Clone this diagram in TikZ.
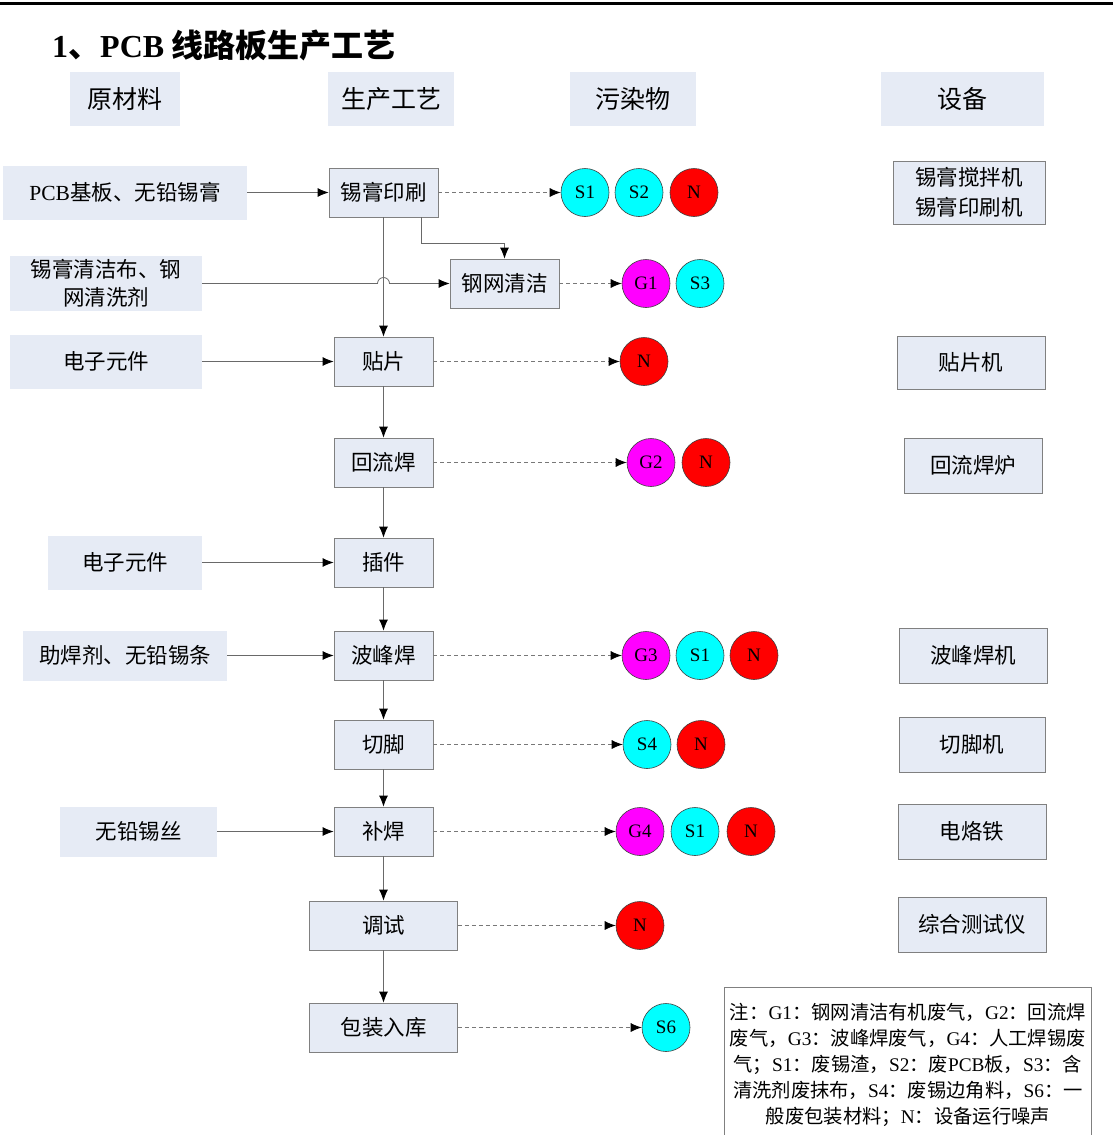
\documentclass[tikz,border=0pt]{standalone}
\usepackage{fontspec}
\setmainfont{Noto Sans CJK SC}
\newfontfamily\lat{Liberation Serif}
\usetikzlibrary{arrows.meta,calc}
\definecolor{boxfill}{RGB}{230,235,245}
\definecolor{edgegray}{RGB}{128,128,128}
\definecolor{linegray}{RGB}{105,105,105}
\definecolor{dashgray}{RGB}{120,120,120}
\definecolor{gcol}{RGB}{255,0,255}
\definecolor{scol}{RGB}{0,255,255}
\definecolor{ncol}{RGB}{255,0,0}
\tikzset{
  hdr/.style={fill=boxfill, inner sep=0pt, font=\fontsize{25}{28}\selectfont},
  raw/.style={fill=boxfill, inner sep=0pt, align=center, font=\fontsize{21.5}{28}\selectfont},
  proc/.style={fill=boxfill, draw=edgegray, line width=0.8pt, inner sep=0pt, font=\fontsize{21.5}{28}\selectfont},
  equip/.style={fill=boxfill, draw=edgegray, line width=0.8pt, inner sep=0pt, align=center, font=\fontsize{21.5}{30}\selectfont},
  circ/.style={circle, draw=black!75, line width=0.6pt, minimum size=48pt, inner sep=0pt, font=\lat\fontsize{19}{19}\selectfont},
  gc/.style={circ, fill=gcol},
  sc/.style={circ, fill=scol},
  nc/.style={circ, fill=ncol},
  arr/.style={draw=linegray, line width=0.8pt, -{Latex[length=11pt,width=9pt,color=black]}},
  darr/.style={draw=dashgray, line width=0.8pt, dash pattern=on 4pt off 3pt, -{Latex[length=11pt,width=9pt,color=black]}},
}
\begin{document}
\begin{tikzpicture}[x=1pt,y=-1pt]
\useasboundingbox (0,0) rectangle (1113,1135);
\fill[white] (0,0) rectangle (1113,1135);
\coordinate (tl) at (0,3.5);
\coordinate (tr) at (1113,3.5);
\draw[line width=3pt] (tl) -- (tr);
\node[anchor=west, font=\bfseries\fontsize{32}{36}\selectfont, inner sep=0pt] (title) at (52,45) {{\lat\bfseries 1}、{\lat\bfseries PCB} 线路板生产工艺};
% headers
\node[hdr, minimum width=110pt, minimum height=54pt] (h1) at (125,99) {原材料};
\node[hdr, minimum width=126pt, minimum height=54pt] (h2) at (391,99) {生产工艺};
\node[hdr, minimum width=126pt, minimum height=54pt] (h3) at (633,99) {污染物};
\node[hdr, minimum width=163pt, minimum height=54pt] (h4) at (962.5,99) {设备};
% raw materials
\node[raw, minimum width=244pt, minimum height=54pt] (m1) at (125,192.5) {{\lat PCB}基板、无铅锡膏};
\node[raw, minimum width=192pt, minimum height=55pt] (m2) at (106,283.5) {锡膏清洁布、钢\\网清洗剂};
\node[raw, minimum width=192pt, minimum height=54pt] (m3) at (106,361.5) {电子元件};
\node[raw, minimum width=154pt, minimum height=54pt] (m4) at (125,562.5) {电子元件};
\node[raw, minimum width=204pt, minimum height=50pt] (m5) at (125,655.5) {助焊剂、无铅锡条};
\node[raw, minimum width=157pt, minimum height=50pt] (m6) at (138.5,831.5) {无铅锡丝};
% processes
\node[proc, minimum width=109pt, minimum height=49pt] (p1) at (383.5,192.5) {锡膏印刷};
\node[proc, minimum width=109pt, minimum height=49pt] (c1) at (504.5,283.5) {钢网清洁};
\node[proc, minimum width=99pt, minimum height=49pt] (p2) at (383.5,361.5) {贴片};
\node[proc, minimum width=99pt, minimum height=49pt] (p3) at (383.5,462.5) {回流焊};
\node[proc, minimum width=99pt, minimum height=49pt] (p4) at (383.5,562.5) {插件};
\node[proc, minimum width=99pt, minimum height=49pt] (p5) at (383.5,655.5) {波峰焊};
\node[proc, minimum width=99pt, minimum height=49pt] (p6) at (383.5,744.5) {切脚};
\node[proc, minimum width=99pt, minimum height=49pt] (p7) at (383.5,831.5) {补焊};
\node[proc, minimum width=148pt, minimum height=49pt] (p8) at (383.5,925.5) {调试};
\node[proc, minimum width=148pt, minimum height=49pt] (p9) at (383.5,1027.5) {包装入库};
% equipment
\node[equip, minimum width=152pt, minimum height=63pt] (e1) at (969,192.5) {锡膏搅拌机\\锡膏印刷机};
\node[equip, minimum width=148pt, minimum height=53pt] (e2) at (971,362.5) {贴片机};
\node[equip, minimum width=138pt, minimum height=55pt] (e3) at (973,465.5) {回流焊炉};
\node[equip, minimum width=148pt, minimum height=55pt] (e4) at (973,655.5) {波峰焊机};
\node[equip, minimum width=146pt, minimum height=55pt] (e5) at (972,744.5) {切脚机};
\node[equip, minimum width=148pt, minimum height=55pt] (e6) at (972,831.5) {电烙铁};
\node[equip, minimum width=148pt, minimum height=55pt] (e7) at (972,924.5) {综合测试仪};
% pollutants
\node[sc] (a1) at (585,192.5) {S1};
\node[sc] (a2) at (639,192.5) {S2};
\node[nc] (a3) at (694,192.5) {N};
\node[gc] (b1) at (646,283.5) {G1};
\node[sc] (b2) at (700,283.5) {S3};
\node[nc] (d1) at (644,361.5) {N};
\node[gc] (f1) at (651,462.5) {G2};
\node[nc] (f2) at (706,462.5) {N};
\node[gc] (g1) at (646,655.5) {G3};
\node[sc] (g2) at (700,655.5) {S1};
\node[nc] (g3) at (754,655.5) {N};
\node[sc] (i1) at (647,744.5) {S4};
\node[nc] (i2) at (701,744.5) {N};
\node[gc] (j1) at (640,831.5) {G4};
\node[sc] (j2) at (695,831.5) {S1};
\node[nc] (j3) at (751,831.5) {N};
\node[nc] (k1) at (640,925.5) {N};
\node[sc] (l1) at (666,1027.5) {S6};
% legend
\node[draw=edgegray, line width=0.8pt, fill=white, minimum width=367pt, minimum height=156pt, inner sep=0pt, anchor=north west] (note) at (724,987) {};
\node[inner sep=0pt, align=center, font=\fontsize{19.3}{26}\selectfont, anchor=north] (notetext) at ($(note.north)+(0,15.5)$) {注：{\lat G1}：钢网清洁有机废气，{\lat G2}：回流焊\\废气，{\lat G3}：波峰焊废气，{\lat G4}：人工焊锡废\\气；{\lat S1}：废锡渣，{\lat S2}：废{\lat PCB}板，{\lat S3}：含\\清洗剂废抹布，{\lat S4}：废锡边角料，{\lat S6}：一\\般废包装材料；{\lat N}：设备运行噪声};
% material arrows
\draw[arr] (m1.east) -- (p1.west);
\coordinate (hop) at (p1.south |- c1.west);
\draw[arr] (m2.east) -- ([xshift=-6pt]hop) arc[start angle=180,end angle=0,radius=6pt] -- (c1.west);
\draw[arr] (m3.east) -- (p2.west);
\draw[arr] (m4.east) -- (p4.west);
\draw[arr] (m5.east) -- (p5.west);
\draw[arr] (m6.east) -- (p7.west);
% process flow
\coordinate (bend) at (421,243);
\draw[arr] (p1.south -| bend) -- (bend) -| (c1.north);
\draw[arr] (p1.south) -- (p2.north);
\draw[arr] (p2.south) -- (p3.north);
\draw[arr] (p3.south) -- (p4.north);
\draw[arr] (p4.south) -- (p5.north);
\draw[arr] (p5.south) -- (p6.north);
\draw[arr] (p6.south) -- (p7.north);
\draw[arr] (p7.south) -- (p8.north);
\draw[arr] (p8.south) -- (p9.north);
% pollutant arrows
\draw[darr] (p1.east) -- (a1.west);
\draw[darr] (c1.east) -- (b1.west);
\draw[darr] (p2.east) -- (d1.west);
\draw[darr] (p3.east) -- (f1.west);
\draw[darr] (p5.east) -- (g1.west);
\draw[darr] (p6.east) -- (i1.west);
\draw[darr] (p7.east) -- (j1.west);
\draw[darr] (p8.east) -- (k1.west);
\draw[darr] (p9.east) -- (l1.west);
\end{tikzpicture}
\end{document}
